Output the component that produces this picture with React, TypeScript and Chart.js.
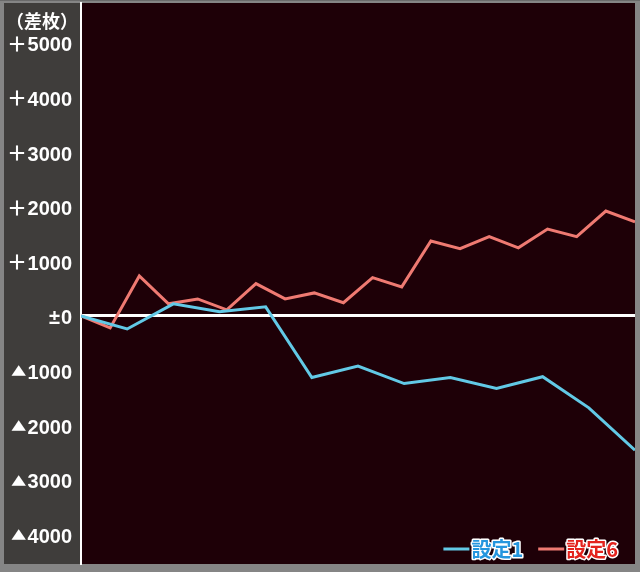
import React, { useEffect, useRef } from "react";
import { Chart, registerables } from "chart.js";

Chart.register(...registerables);

const seriesNames = ["設定1", "設定6"];
const setting1X = [0, 19, 38, 57, 76, 95, 114, 133, 152, 171, 190, 209, 228];
const setting1Values = [0, -240, 220, 75, 165, -1130, -920, -1240, -1130, -1330, -1115, -1685, -2460];
const setting6X = [0, 12, 24, 36, 48, 60, 72, 84, 96, 108, 120, 132, 144, 156, 168, 180, 192, 204, 216, 228];
const setting6Values = [0, -220, 730, 220, 310, 110, 590, 310, 420, 240, 700, 530, 1370, 1230, 1450, 1245, 1590, 1450, 1920, 1720];
const yTickValues = [-4000, -3000, -2000, -1000, 0, 1000, 2000, 3000, 4000, 5000];
const yTickPrefixes = ["▲", "▲", "▲", "▲", "±", "＋", "＋", "＋", "＋", "＋"];
const yTickNumbers = ["4000", "3000", "2000", "1000", "0", "1000", "2000", "3000", "4000", "5000"];
const yUnitLabel = "（差枚）";

const lineColors = ["#62c9e6", "#ef7a72"];
const legendTextColors = ["#2596de", "#e3231d"];
const FONT = '"Liberation Sans", "Noto Sans CJK JP", sans-serif';
const SYM_FONT = '"DejaVu Sans", "Noto Sans CJK JP", sans-serif';
const CJK_FONT = '"Noto Sans CJK JP", "Liberation Sans", sans-serif';

const decorPlugin = {
  id: "decor",
  beforeDraw(chart: any) {
    const { ctx, chartArea, width, height } = chart;
    ctx.save();
    ctx.fillStyle = "#858585";
    ctx.fillRect(0, 0, width, height);
    ctx.fillStyle = "#6a6a6a";
    ctx.fillRect(0, 0, width, 1);
    ctx.fillStyle = "#3f3d3b";
    ctx.fillRect(4, chartArea.top, chartArea.left - 4, chartArea.bottom - chartArea.top);
    ctx.fillStyle = "#1e0007";
    ctx.fillRect(chartArea.left, chartArea.top, chartArea.right - chartArea.left, chartArea.bottom - chartArea.top);
    ctx.restore();
  },
  afterDraw(chart: any) {
    const { ctx, chartArea } = chart;
    const yScale = chart.scales.y;
    ctx.save();
    // tick labels
    ctx.fillStyle = "#ffffff";
    ctx.textBaseline = "alphabetic";
    ctx.textAlign = "right";
    yTickValues.forEach((v, i) => {
      const py = yScale.getPixelForValue(v);
      const base = py + 8.5;
      ctx.font = `bold 20px ${FONT}`;
      const num = yTickNumbers[i];
      const right = 72;
      ctx.fillText(num, right, base);
      const w = ctx.measureText(num).width;
      const pre = yTickPrefixes[i];
      if (pre === "▲") {
        ctx.save();
        ctx.font = `20px ${SYM_FONT}`;
        ctx.textAlign = "left";
        const m = ctx.measureText(pre);
        const gw = m.actualBoundingBoxLeft + m.actualBoundingBoxRight;
        const gh = m.actualBoundingBoxAscent + m.actualBoundingBoxDescent;
        const sx = 15 / (gw || 15);
        const sy = 11 / (gh || 11);
        const boxRight = right - w - 1;
        const boxBottom = py + 6;
        ctx.translate(boxRight - 15, boxBottom);
        ctx.scale(sx, sy);
        ctx.fillText(pre, m.actualBoundingBoxLeft, -m.actualBoundingBoxDescent);
        ctx.restore();
      } else if (pre === "＋") {
        ctx.font = `bold 20px ${CJK_FONT}`;
        ctx.fillText(pre, right - w - 0.5, base + 0.5);
      } else {
        ctx.font = `bold 20px ${FONT}`;
        ctx.fillText(pre, right - w - 1, base);
      }
    });

    // unit label
    ctx.font = `bold 18px ${CJK_FONT}`;
    ctx.fillStyle = "#ffffff";
    ctx.textAlign = "right";
    ctx.textBaseline = "middle";
    ctx.fillText(yUnitLabel, 78, 21);

    // legend
    ctx.font = `bold 20px ${CJK_FONT}`;
    ctx.textBaseline = "middle";
    ctx.textAlign = "left";
    const y = chartArea.bottom - 15;
    const lineLen = 26;
    const gap = 2;
    const itemGap = 15;
    const widths = seriesNames.map((n) => ctx.measureText(n).width);
    let total = 0;
    widths.forEach((w, i) => {
      total += lineLen + gap + w + (i < widths.length - 1 ? itemGap : 0);
    });
    let x = 618 - total;
    seriesNames.forEach((name, i) => {
      ctx.strokeStyle = lineColors[i];
      ctx.lineWidth = 3;
      ctx.beginPath();
      ctx.moveTo(x, y);
      ctx.lineTo(x + lineLen, y);
      ctx.stroke();
      x += lineLen + gap;
      ctx.lineJoin = "round";
      ctx.strokeStyle = "#ffffff";
      ctx.lineWidth = 3;
      ctx.strokeText(name, x, y);
      ctx.fillStyle = legendTextColors[i];
      ctx.fillText(name, x, y);
      x += widths[i] + itemGap;
    });
    ctx.restore();
  },
};

export default function App() {
  const ref = useRef<HTMLCanvasElement | null>(null);
  useEffect(() => {
    if (!ref.current) return;
    const chart = new Chart(ref.current, {
      type: "line",
      data: {
        datasets: [
          {
            label: seriesNames[0],
            data: setting1X.map((x, i) => ({ x, y: setting1Values[i] })),
            borderColor: lineColors[0],
            borderWidth: 3,
            pointRadius: 0,
            tension: 0,
            fill: false,
          },
          {
            label: seriesNames[1],
            data: setting6X.map((x, i) => ({ x, y: setting6Values[i] })),
            borderColor: lineColors[1],
            borderWidth: 3,
            pointRadius: 0,
            tension: 0,
            fill: false,
          },
        ],
      },
      options: {
        animation: false,
        responsive: false,
        maintainAspectRatio: false,
        layout: { padding: { top: 3, right: 5, bottom: 8, left: 0 } },
        plugins: { legend: { display: false }, tooltip: { enabled: false } },
        scales: {
          x: { type: "linear", display: false, min: 0, max: 228 },
          y: {
            min: -4545,
            max: 5730,
            afterFit: (s: any) => {
              s.width = 81;
              s.paddingTop = 0;
              s.paddingBottom = 0;
            },
            afterBuildTicks: (s: any) => {
              s.ticks = yTickValues.map((v) => ({ value: v }));
            },
            ticks: {
              display: false,
              autoSkip: false,
            },
            grid: {
              drawTicks: false,
              color: (c: any) => (c.tick && c.tick.value === 0 ? "#ffffff" : "rgba(0,0,0,0)"),
              lineWidth: (c: any) => (c.tick && c.tick.value === 0 ? 3 : 1),
            },
            border: { color: "#ffffff", width: 2 },
          },
        },
      },
      plugins: [decorPlugin],
    } as any);
    return () => chart.destroy();
  }, []);
  return (
    <div style={{ position: "fixed", left: 0, top: 0, width: 640, height: 572 }}>
      <canvas ref={ref} width={640} height={572} style={{ width: 640, height: 572, display: "block" }} />
    </div>
  );
}
